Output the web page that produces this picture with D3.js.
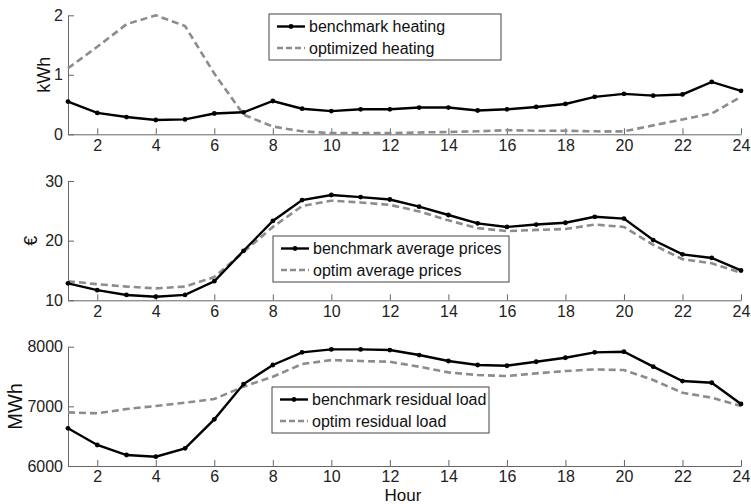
<!DOCTYPE html>
<html>
<head>
<meta charset="utf-8">
<script src="https://cdn.jsdelivr.net/npm/d3@7"></script>
<style>
  body { margin: 0; background: #fff; }
  svg { display: block; font-family: "Liberation Sans", Arial, sans-serif; }
</style>
</head>
<body>
<div id="chart"></div>
<script>
// hours on the x axis
var hours = d3.range(1, 25)
var hourTicks = [2, 4, 6, 8, 10, 12, 14, 16, 18, 20, 22, 24]

// panel 1: heating (kWh)
var benchHeating = [0.55, 0.36, 0.29, 0.24, 0.25, 0.35, 0.37, 0.56, 0.43, 0.39, 0.42, 0.42,
  0.45, 0.45, 0.40, 0.42, 0.46, 0.51, 0.63, 0.68, 0.65, 0.67, 0.88, 0.73]
var optHeating = [1.11, 1.47, 1.85, 2.0, 1.82, 1.02, 0.33, 0.13, 0.05, 0.02, 0.02, 0.02,
  0.03, 0.04, 0.05, 0.07, 0.06, 0.06, 0.05, 0.05, 0.15, 0.25, 0.35, 0.63]

// panel 2: prices (€)
var benchPrices = [12.85, 11.7, 10.9, 10.6, 10.9, 13.2, 18.3, 23.3, 26.8, 27.65, 27.3, 26.9,
  25.7, 24.3, 22.9, 22.3, 22.7, 23.0, 24.0, 23.7, 20.1, 17.7, 17.1, 15.0]
var optPrices = [13.2, 12.7, 12.3, 12.0, 12.3, 13.9, 18.1, 22.3, 25.8, 26.7, 26.4, 26.0,
  24.9, 23.4, 22.1, 21.6, 21.8, 21.95, 22.7, 22.3, 19.3, 16.9, 16.2, 14.6]

// panel 3: residual load (MWh)
var benchLoad = [6632, 6352, 6184, 6156, 6296, 6782, 7374, 7693, 7905, 7955, 7955, 7944,
  7860, 7760, 7693, 7681, 7748, 7815, 7905, 7916, 7665, 7424, 7396, 7039]
var optLoad = [6899, 6883, 6955, 7006, 7061, 7123, 7330, 7497, 7709, 7776, 7760, 7748,
  7665, 7570, 7525, 7508, 7553, 7592, 7620, 7609, 7441, 7228, 7145, 7006]

var W = 751, H = 504

var panels = [
  { bench: benchHeating, opt: optHeating, domain: [0, 2], ticks: [0, 1, 2], range: [134.3, 15.3],
    ylabel: "kWh", labelX: 50, labelSize: 18,
    names: ["benchmark heating", "optimized heating"], legend: [269, 14, 232, 46] },
  { bench: benchPrices, opt: optPrices, domain: [10, 30], ticks: [10, 20, 30], range: [300.3, 181],
    ylabel: "€", labelX: 37, labelSize: 18,
    names: ["benchmark average prices", "optim average prices"], legend: [273, 236, 236, 46] },
  { bench: benchLoad, opt: optLoad, domain: [6000, 8000], ticks: [6000, 7000, 8000], range: [466, 346.7],
    ylabel: "MWh", labelX: 22, labelSize: 20,
    names: ["benchmark residual load", "optim residual load"], legend: [272, 387, 217, 46] }
]

var svg = d3.select("#chart").append("svg")
  .attr("width", W)
  .attr("height", H)

var x = d3.scaleLinear().domain([1, 24]).range([68, 741])

var axisColor = "#666"

panels.forEach(function (p) {
  var y = d3.scaleLinear().domain(p.domain).range(p.range)
  var g = svg.append("g")

  // bottom axis, ticks pointing inward
  var xa = g.append("g")
    .attr("transform", "translate(0," + p.range[0] + ")")
    .call(d3.axisBottom(x).tickValues(hourTicks).tickSizeInner(-6).tickSizeOuter(0).tickPadding(5))
  xa.select(".domain").attr("stroke", axisColor)
  xa.selectAll(".tick line").attr("stroke", axisColor)
  xa.selectAll("text").attr("font-size", 16).attr("fill", "#222")
    .attr("font-family", "'Liberation Sans', Arial, sans-serif")

  // left axis
  var ya = g.append("g")
    .attr("transform", "translate(" + x(1) + ",0)")
    .call(d3.axisLeft(y).tickValues(p.ticks).tickFormat(d3.format("d")).tickSizeInner(-6).tickSizeOuter(0).tickPadding(5))
  ya.select(".domain").attr("stroke", axisColor)
  ya.selectAll(".tick line").attr("stroke", axisColor)
  ya.selectAll("text").attr("font-size", 16).attr("fill", "#222")
    .attr("font-family", "'Liberation Sans', Arial, sans-serif")

  var ymid = (p.range[0] + p.range[1]) / 2
  g.append("text")
    .attr("transform", "translate(" + p.labelX + "," + ymid + ") rotate(-90)")
    .attr("text-anchor", "middle")
    .attr("font-size", p.labelSize)
    .attr("fill", "#111")
    .text(p.ylabel)

  var line = d3.line()
    .x(function (d, i) { return x(hours[i]) })
    .y(function (d) { return y(d) })

  g.append("path")
    .datum(p.opt)
    .attr("d", line)
    .attr("fill", "none")
    .attr("stroke", "#8c8c8c")
    .attr("stroke-width", 2.6)
    .attr("stroke-dasharray", "7,4")

  g.append("path")
    .datum(p.bench)
    .attr("d", line)
    .attr("fill", "none")
    .attr("stroke", "#000")
    .attr("stroke-width", 2.4)

  g.selectAll("circle.pt")
    .data(p.bench)
    .join("circle")
    .attr("class", "pt")
    .attr("cx", function (d, i) { return x(hours[i]) })
    .attr("cy", function (d) { return y(d) })
    .attr("r", 2.4)
    .attr("fill", "#000")

  // legend box
  var lx = p.legend[0], ly = p.legend[1], lw = p.legend[2], lh = p.legend[3]
  var lg = g.append("g")
  lg.append("rect")
    .attr("x", lx).attr("y", ly).attr("width", lw).attr("height", lh)
    .attr("fill", "#fff").attr("stroke", "#444").attr("stroke-width", 1)
  var rows = [ly + 12.5, ly + 34]
  lg.append("line")
    .attr("x1", lx + 8).attr("x2", lx + 36).attr("y1", rows[0]).attr("y2", rows[0])
    .attr("stroke", "#000").attr("stroke-width", 2.4)
  lg.append("circle")
    .attr("cx", lx + 22).attr("cy", rows[0]).attr("r", 2.4).attr("fill", "#000")
  lg.append("line")
    .attr("x1", lx + 8).attr("x2", lx + 36).attr("y1", rows[1]).attr("y2", rows[1])
    .attr("stroke", "#8c8c8c").attr("stroke-width", 2.6).attr("stroke-dasharray", "6,3")
  lg.selectAll("text.leg")
    .data(p.names)
    .join("text")
    .attr("class", "leg")
    .attr("x", lx + 40)
    .attr("y", function (d, i) { return rows[i] })
    .attr("dy", "0.35em")
    .attr("font-size", 16)
    .attr("fill", "#111")
    .text(function (d) { return d })
})

svg.append("text")
  .attr("x", 403)
  .attr("y", 500.5)
  .attr("text-anchor", "middle")
  .attr("font-size", 17)
  .attr("fill", "#111")
  .text("Hour")
</script>
</body>
</html>
